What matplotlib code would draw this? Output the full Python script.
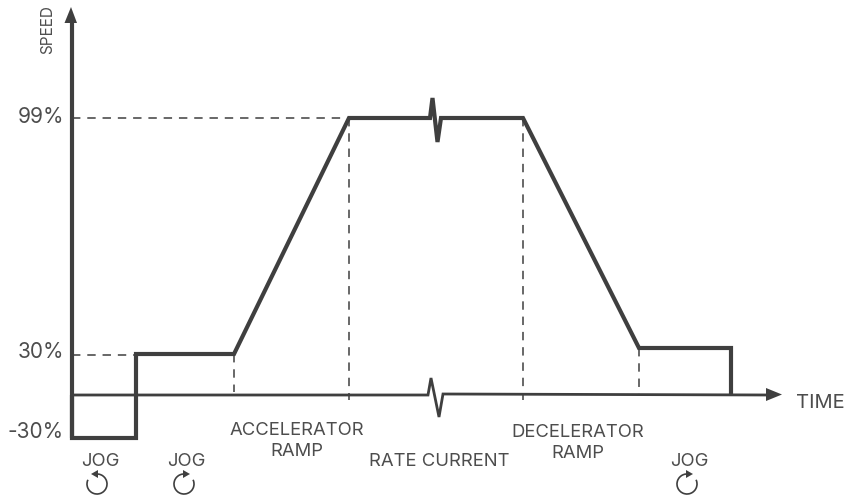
import matplotlib
matplotlib.use('Agg')
import matplotlib.pyplot as plt
from matplotlib.patches import Arc, Polygon

plt.rcParams['font.family'] = ['Inter', 'DejaVu Sans']

# everything, in picture pixels
profile_x = [72, 72, 136, 136, 234, 349, 430, 432.5, 437.5, 441, 523, 639, 731, 731]
profile_y = [395, 438, 438, 354, 354, 118, 118, 98, 142, 118, 118, 348, 348, 395]
base_x = [72, 428, 431, 439, 443, 770]
base_y = [395, 395, 378, 417, 394, 395]

guides_h = [(72, 349, 118), (72, 136, 355)]
guides_v = [(234, 354, 392), (349, 118, 400), (523, 118, 400), (639, 348, 395)]

speed_labels = ['99%', '30%', '-30%']
speed_pos = [117, 352, 432]

captions = ['JOG', 'JOG', 'ACCELERATOR\nRAMP', 'RATE CURRENT', 'DECELERATOR\nRAMP', 'JOG']
caption_x = [100, 186, 296.5, 439, 578, 689.5]
caption_y = [461, 461, 441, 461, 443, 461]

# centre x, centre y, direction of the little arrow
jog_arrows = [(97, 484, -1), (184, 484, 1), (687, 484, 1)]

ink = '#3f3f3f'
txt = '#4d4d4d'

fig = plt.figure(figsize=(8.47, 4.97), dpi=100)
ax = fig.add_axes([0, 0, 1, 1])
ax.set_xlim(0, 847)
ax.set_ylim(497, 0)
ax.axis('off')

for x0, x1, y in guides_h:
    ax.plot([x0, x1], [y, y], color=ink, lw=1.1, dashes=(5.5, 4.5))
for x, y0, y1 in guides_v:
    ax.plot([x, x], [y0, y1], color=ink, lw=1.1, dashes=(5.5, 4.5))

# axes
ax.plot([71.7, 71.7], [438, 20], color=ink, lw=3, solid_capstyle='butt')
ax.add_patch(Polygon([(71, 7), (64.5, 23), (77, 23)], closed=True, color=ink, lw=0))
ax.plot(base_x, base_y, color=ink, lw=2, solid_joinstyle='miter')
ax.add_patch(Polygon([(782, 394.5), (766, 388), (766, 401)], closed=True, color=ink, lw=0))

ax.plot(profile_x, profile_y, color=ink, lw=3, solid_joinstyle='miter', solid_capstyle='butt')

for lab, y in zip(speed_labels, speed_pos):
    ax.text(64, y, lab, ha='right', va='center', fontsize=15, color=txt)

ax.text(48, 30, 'SPEED', rotation=90, ha='center', va='center', fontsize=11, color=txt)
ax.text(796, 403, 'TIME', ha='left', va='center', fontsize=14.5, color=txt)

for lab, x, y in zip(captions, caption_x, caption_y):
    ax.text(x, y, lab, ha='center', va='center', fontsize=13.3, color=txt, linespacing=1.3)

for cx, cy, d in jog_arrows:
    if d > 0:
        ax.add_patch(Arc((cx, cy), 20, 20, theta1=-25, theta2=265, color=ink, lw=1.2))
    else:
        ax.add_patch(Arc((cx, cy), 20, 20, theta1=-85, theta2=205, color=ink, lw=1.2))
    ax.add_patch(Polygon([(cx + d * 6, cy - 10), (cx - d, cy - 14), (cx - d, cy - 6)],
                         closed=True, color=ink, lw=0))

fig.savefig('out.png', dpi=100)
